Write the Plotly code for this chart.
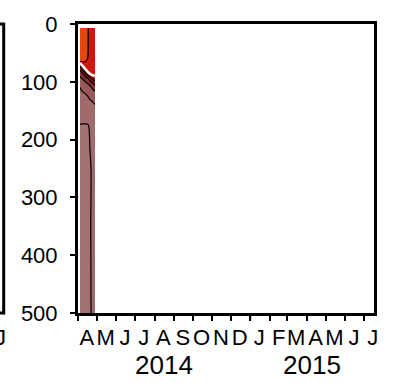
import numpy as np
import plotly.graph_objects as go

# Profile dates (April 2014) and sampling depths (m)
profile_dates = ["2014-04-04", "2014-04-08", "2014-04-12", "2014-04-16",
                 "2014-04-20", "2014-04-24", "2014-04-28"]
depths = [7, 30, 55, 65, 75, 85, 95, 105, 120, 145, 175, 250, 350, 500]

# Temperature profiles (degC), one list per date, ordered by depth
temp_apr04 = [9.85, 9.84, 9.80, 9.55, 7.20, 5.90, 5.20, 4.60, 4.30, 3.90, 3.48, 3.43, 3.45, 3.46]
temp_apr08 = [9.80, 9.80, 9.75, 9.50, 8.40, 6.40, 5.50, 4.90, 4.40, 3.90, 3.47, 3.44, 3.46, 3.45]
temp_apr12 = [9.75, 9.75, 9.70, 9.52, 9.10, 7.20, 5.80, 5.10, 4.50, 4.00, 3.46, 3.45, 3.44, 3.47]
temp_apr16 = [9.60, 9.58, 9.55, 9.45, 9.30, 8.20, 6.30, 5.30, 4.60, 4.00, 3.47, 3.46, 3.48, 3.46]
temp_apr20 = [9.30, 9.30, 9.30, 9.28, 9.25, 8.90, 6.90, 5.60, 4.80, 4.10, 3.54, 3.47, 3.49, 3.46]
temp_apr24 = [9.30, 9.28, 9.26, 9.25, 9.22, 9.10, 7.60, 6.00, 4.90, 4.20, 3.65, 3.54, 3.52, 3.55]
temp_apr28 = [9.25, 9.25, 9.22, 9.20, 9.20, 9.10, 8.10, 6.50, 5.20, 4.30, 3.70, 3.60, 3.58, 3.57]

# Mixed layer depth (m) at each profile date
mixed_layer_depth = [67, 72, 77, 82, 86, 88.5, 90]

# Axis labels
depth_ticks = [0, 100, 200, 300, 400, 500]
month_mid_dates = ["2014-04-15", "2014-05-15", "2014-06-15", "2014-07-15", "2014-08-15",
                   "2014-09-15", "2014-10-15", "2014-11-15", "2014-12-15", "2015-01-15",
                   "2015-02-15", "2015-03-15", "2015-04-15", "2015-05-15", "2015-06-15",
                   "2015-07-15"]
month_letters = ["A", "M", "J", "J", "A", "S", "O", "N", "D",
                 "J", "F", "M", "A", "M", "J", "J"]
year_labels = ["2014", "2015"]
year_centers = ["2014-08-16", "2015-04-09"]

# Fill colours for the contour bands, from coldest to warmest
band_colors = ["#a27272", "#a06b6b", "#995a5a", "#852e2e",
               "#841616", "#a31212", "#d0160f", "#e4460e"]

FONT = "Liberation Sans, Arial, Helvetica, sans-serif"

temperature = np.array([temp_apr04, temp_apr08, temp_apr12, temp_apr16,
                        temp_apr20, temp_apr24, temp_apr28]).T

n = len(band_colors)
colorscale = [[i / (n - 1), c] for i, c in enumerate(band_colors)]

fig = go.Figure()
fig.add_trace(go.Contour(
    x=profile_dates, y=depths, z=temperature,
    autocontour=False,
    contours=dict(start=3.5, end=9.5, size=1, coloring="fill"),
    colorscale=colorscale, showscale=False,
    line=dict(color="black", width=1.2, smoothing=1),
    hoverinfo="skip",
))
fig.add_trace(go.Scatter(
    x=profile_dates, y=mixed_layer_depth, mode="lines",
    line=dict(color="white", width=2.5, shape="spline"),
    hoverinfo="skip", showlegend=False,
))

fig.update_xaxes(
    type="date", range=["2014-04-01", "2015-07-17"],
    tickmode="array", tickvals=month_mid_dates, ticktext=month_letters,
    tickangle=0,
    ticks="", showgrid=False, zeroline=False,
    showline=True, linewidth=3, linecolor="black", mirror=True,
    tickfont=dict(family=FONT, size=22, color="black"),
    ticklabelstandoff=3,
    minor=dict(tickmode="linear", tick0="2014-04-01", dtick="M1",
               ticks="outside", ticklen=5, tickwidth=1.5, tickcolor="black",
               showgrid=False),
)
fig.update_yaxes(
    range=[500, 0], tickmode="array", tickvals=depth_ticks,
    ticks="outside", ticklen=5, tickwidth=1.5, tickcolor="black",
    showgrid=False, zeroline=False,
    showline=True, linewidth=3, linecolor="black", mirror=True,
    tickfont=dict(family=FONT, size=22, color="black"),
    ticklabelstandoff=8,
)

# Longer tick marking the new year
fig.add_shape(type="line", xref="x", yref="paper",
              x0="2015-01-01", x1="2015-01-01", y0=0, y1=-0.026,
              line=dict(color="black", width=1.5))

# Edge of the neighbouring panel on the left
fig.add_shape(type="rect", xref="paper", yref="paper",
              x0=-0.6, x1=-0.251, y0=0, y1=1,
              line=dict(color="black", width=3))
fig.add_annotation(text="J", xref="paper", yref="paper", x=-0.262, y=-0.084,
                   showarrow=False, font=dict(family=FONT, size=22, color="black"),
                   xanchor="center", yanchor="middle")

for label, center in zip(year_labels, year_centers):
    fig.add_annotation(text=label, xref="x", yref="paper", x=center, y=-0.18,
                       showarrow=False, font=dict(family=FONT, size=26, color="black"),
                       xanchor="center", yanchor="middle")

fig.update_layout(
    width=395, height=383,
    margin=dict(l=78, r=21, t=16, b=70),
    paper_bgcolor="white", plot_bgcolor="white",
    showlegend=False,
)

fig.write_html("out.html")
